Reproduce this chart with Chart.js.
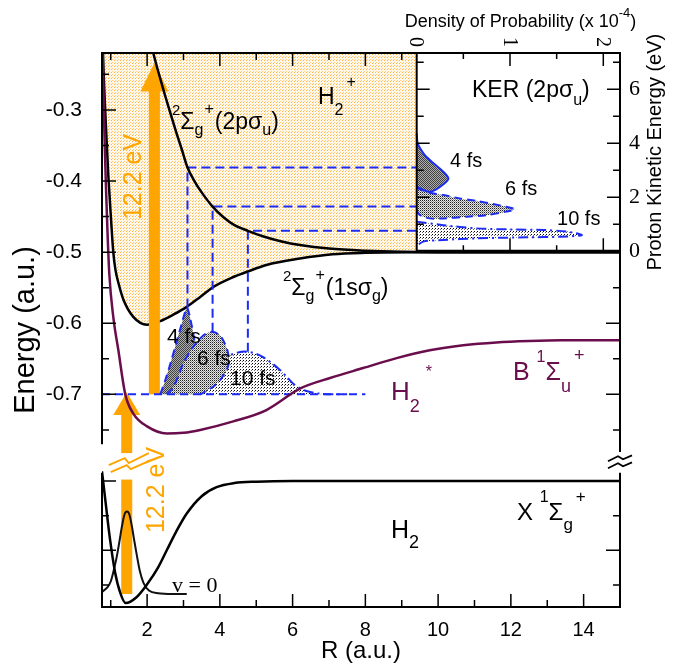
<!DOCTYPE html>
<html>
<head>
<meta charset="utf-8">
<script src="https://cdn.jsdelivr.net/npm/chart.js@4.4.0/dist/chart.umd.min.js"></script>
<style>
  html, body { margin: 0; padding: 0; background: #fff; }
  #wrap { width: 673px; height: 669px; }
</style>
</head>
<body>
<div id="wrap"><canvas id="pec"></canvas></div>
<script>
// tick labels
const rTicks = [2, 4, 6, 8, 10, 12, 14];
const eTopTicks = [-0.3, -0.4, -0.5, -0.6, -0.7];
const eBotTicks = [-1.0, -1.1];
const kerTicks = [0, 2, 4, 6];
const densTicks = [0, 1, 2];

// potential curves, [R (a.u.), E (a.u.)]
const ionU = [[2.10,-0.205],[2.17,-0.220],[2.30,-0.245],[2.45,-0.272],[2.60,-0.298],[2.81,-0.333],[2.95,-0.355],[3.11,-0.381],[3.30,-0.400],[3.50,-0.416],[3.80,-0.436],[4.10,-0.451],[4.40,-0.462],[4.77,-0.470],[5.20,-0.478],[5.70,-0.485],[6.20,-0.490],[7.00,-0.495],[8.00,-0.498],[9.00,-0.4995],[10.0,-0.500],[15.0,-0.500]];
const ionG = [[0.76,-0.170],[0.80,-0.241],[0.86,-0.314],[0.93,-0.389],[1.01,-0.455],[1.07,-0.500],[1.13,-0.525],[1.21,-0.543],[1.35,-0.567],[1.62,-0.591],[2.00,-0.602],[2.36,-0.597],[2.72,-0.588],[3.09,-0.577],[3.46,-0.563],[3.82,-0.549],[4.37,-0.535],[4.73,-0.528],[5.28,-0.518],[6.20,-0.509],[7.10,-0.503],[8.00,-0.501],[9.40,-0.5003],[15.0,-0.500]];
const stateB = [[0.765,-0.200],[0.80,-0.270],[0.83,-0.340],[0.87,-0.410],[0.91,-0.470],[0.96,-0.530],[1.07,-0.591],[1.21,-0.638],[1.40,-0.700],[1.62,-0.727],[2.00,-0.745],[2.54,-0.755],[3.00,-0.754],[3.46,-0.750],[4.37,-0.738],[5.28,-0.722],[6.20,-0.692],[7.03,-0.677],[7.94,-0.663],[8.86,-0.649],[9.77,-0.638],[10.69,-0.631],[11.60,-0.627],[12.50,-0.625],[13.40,-0.624],[15.0,-0.624]];
const stateX = [[0.76,-0.986],[0.87,-1.036],[0.98,-1.084],[1.12,-1.132],[1.26,-1.161],[1.41,-1.176],[1.70,-1.168],[2.00,-1.149],[2.30,-1.125],[2.54,-1.100],[2.80,-1.073],[3.09,-1.047],[3.50,-1.022],[3.91,-1.009],[4.40,-1.003],[5.00,-1.001],[6.00,-1.000],[15.0,-1.000]];
const psiV0 = [[0.76,-1.160],[0.90,-1.154],[1.00,-1.145],[1.10,-1.125],[1.17,-1.108],[1.24,-1.087],[1.31,-1.065],[1.38,-1.048],[1.445,-1.044],[1.51,-1.048],[1.58,-1.065],[1.65,-1.087],[1.72,-1.108],[1.80,-1.130],[1.90,-1.147],[2.05,-1.158],[2.30,-1.162],[2.70,-1.163],[3.09,-1.163]];

// wave packets on H2* (E = -0.7)
const excitE = -0.7;
const pack4 = [[2.36,-0.700],[2.50,-0.680],[2.65,-0.655],[2.80,-0.628],[2.95,-0.601],[3.05,-0.583],[3.10,-0.578],[3.18,-0.592],[3.30,-0.625],[3.33,-0.660],[3.25,-0.688],[3.10,-0.700]];
const pack6 = [[2.54,-0.700],[2.72,-0.690],[2.85,-0.675],[3.00,-0.656],[3.27,-0.633],[3.55,-0.617],[3.78,-0.612],[4.00,-0.617],[4.14,-0.629],[4.23,-0.643],[4.23,-0.660],[4.05,-0.677],[3.85,-0.688],[3.64,-0.695],[3.46,-0.700]];
const pack10 = [[2.60,-0.700],[3.00,-0.690],[3.50,-0.672],[3.90,-0.657],[4.28,-0.645],[4.50,-0.641],[4.74,-0.640],[5.00,-0.643],[5.20,-0.648],[5.45,-0.657],[5.66,-0.666],[5.85,-0.676],[6.02,-0.685],[6.30,-0.694],[6.75,-0.699],[7.50,-0.700]];
const dropR = [3.11, 3.80, 4.77];
const dropLow = [-0.578, -0.612, -0.640];
const dropHigh = [-0.381, -0.436, -0.470];
const insetR = 9.40;

// KER distributions, [density (1e-4), proton energy (eV)]
const ker4 = [[0,4.37],[0.01,4.00],[0.04,3.80],[0.09,3.55],[0.18,3.26],[0.285,2.95],[0.34,2.70],[0.30,2.52],[0.196,2.27],[0.125,2.21],[0.035,2.33],[0,2.40]];
const ker6 = [[0,2.35],[0.14,2.17],[0.285,2.09],[0.46,1.96],[0.64,1.87],[0.82,1.75],[0.96,1.65],[1.05,1.56],[0.96,1.47],[0.75,1.34],[0.535,1.28],[0.285,1.22],[0.14,1.22],[0.035,1.34],[0,1.50]];
const ker10 = [[0,1.10],[0.285,0.97],[0.64,0.85],[1.00,0.81],[1.36,0.79],[1.61,0.73],[1.77,0.60],[1.54,0.54],[1.18,0.52],[0.64,0.48],[0.285,0.42],[0.07,0.36],[0,0.20]];

const SANS = "'Liberation Sans', Arial, Helvetica, sans-serif";
const SERIF = "'Liberation Serif', 'Times New Roman', serif";
const BLUE = '#1d2cf5';
const PURPLE = '#6a0d4c';
const ORANGE = '#ffa500';

function pattern(size, bg, dots) {
  const c = document.createElement('canvas');
  c.width = c.height = size;
  const g = c.getContext('2d');
  g.fillStyle = bg;
  g.fillRect(0, 0, size, size);
  dots.forEach(([x, y, col]) => { g.fillStyle = col; g.fillRect(x, y, 1, 1); });
  return g.createPattern(c, 'repeat');
}
const orangeDots = pattern(3, '#fff8ea', [[0, 0, '#ffb53f'], [1, 2, '#ffcd7a']]);
const darkDots = pattern(2, '#b0b0b0', [[0, 0, '#404040'], [1, 1, '#404040']]);
const midDots = pattern(2, '#e6e6e6', [[0, 0, '#202020'], [1, 1, '#8c8c8c']]);
const lightDots = pattern(3, '#ffffff', [[0, 0, '#000000'], [2, 1, '#666666']]);

const xy = a => a.map(([x, y]) => ({ x, y }));
function line(data, xId, yId, opts) {
  return Object.assign({
    data: xy(data), xAxisID: xId, yAxisID: yId, showLine: true,
    pointRadius: 0, borderWidth: 2.5, borderColor: '#000', fill: false,
    cubicInterpolationMode: 'monotone'
  }, opts);
}
const blob = (data, xId, yId, bg, dash, order) => line(data, xId, yId, {
  fill: 'shape', backgroundColor: bg, borderColor: BLUE, borderWidth: 2,
  borderDash: dash, cubicInterpolationMode: 'default', tension: 0.3, order
});

const datasets = [
  line(ionG.filter(p => p[0] <= insetR), 'x', 'yTop', { borderWidth: 0, backgroundColor: orangeDots, fill: 'end', order: 20 }),
  line(ionG, 'x', 'yTop', { order: 19 }),
  blob(pack10, 'x', 'yTop', lightDots, [10, 4, 2, 4], 15),
  blob(pack4, 'x', 'yTop', darkDots, [8, 5], 14),
  blob(pack6, 'x', 'yTop', midDots, [8, 5], 13),
  line([[0.76, excitE], [8.0, excitE]], 'x', 'yTop', { borderColor: BLUE, borderWidth: 2, borderDash: [8, 5], order: 12 }),
  ...dropR.map((r, i) => line([[r, dropLow[i]], [r, dropHigh[i]], [insetR, dropHigh[i]]], 'x', 'yTop',
    { borderColor: BLUE, borderWidth: 2, borderDash: [9, 5], cubicInterpolationMode: 'default', tension: 0, order: 12 })),
  blob(ker10, 'x2', 'y2', lightDots, [10, 4, 2, 4], 11),
  blob(ker6, 'x2', 'y2', midDots, [8, 5], 10),
  blob(ker4, 'x2', 'y2', darkDots, [], 9),
  line(ionU, 'x', 'yTop', { order: 1 }),
  line(stateB, 'x', 'yTop', { borderColor: PURPLE, order: 1 }),
  line(stateX, 'x', 'yBot', { order: 1 }),
  line(psiV0, 'x', 'yBot', { borderWidth: 2, borderColor: '#111', order: 1 })
];
const ION_G_INDEX = 1;

function rich(ctx, x, y, parts, size, color, family) {
  ctx.save();
  ctx.fillStyle = color;
  ctx.textAlign = 'left';
  ctx.textBaseline = 'alphabetic';
  let cx = x;
  for (const [t, f = 1, dy = 0, dx = 0] of parts) {
    cx += dx;
    ctx.font = `${Math.round(size * f)}px ${family}`;
    ctx.fillText(t, cx, y + dy * size);
    cx += ctx.measureText(t).width;
  }
  ctx.restore();
}
function rotText(ctx, t, x, y, ang, font, color) {
  ctx.save();
  ctx.translate(x, y);
  ctx.rotate(ang);
  ctx.font = font;
  ctx.fillStyle = color;
  ctx.textAlign = 'center';
  ctx.textBaseline = 'middle';
  ctx.fillText(t, 0, 0);
  ctx.restore();
}

// text labels anchored in data coordinates
const labels = [
  { ax: 'x', ay: 'yTop', at: [6.698, -0.2917], size: 23, color: '#000', parts: [['H'], ['2', 0.7, 0.5], ['+', 0.7, -0.75, 3]] },
  { ax: 'x', ay: 'yTop', at: [2.684, -0.3269], size: 23, color: '#000', parts: [['2', 0.65, -0.62], ['Σ'], ['g', 0.7, 0.25], ['+', 0.7, -0.65, 1], ['(2pσ', 1, 0, 1], ['u', 0.7, 0.25], [')']] },
  { ax: 'x', ay: 'yTop', at: [5.736, -0.5603], size: 23, color: '#000', parts: [['2', 0.65, -0.62], ['Σ'], ['g', 0.7, 0.25], ['+', 0.7, -0.65, 1], ['(1sσ', 1, 0, 1], ['g', 0.7, 0.25], [')']] },
  { ax: 'x', ay: 'yTop', at: [2.547, -0.6278], size: 21, color: '#000', parts: [['4 fs']] },
  { ax: 'x', ay: 'yTop', at: [3.372, -0.6587], size: 21, color: '#000', parts: [['6 fs']] },
  { ax: 'x', ay: 'yTop', at: [4.279, -0.6868], size: 21, color: '#000', parts: [['10 fs']] },
  { ax: 'x', ay: 'yTop', at: [8.705, -0.7079], size: 26, color: PURPLE, parts: [['H'], ['2', 0.7, 0.46], ['*', 0.6, -0.9, 6]] },
  { ax: 'x', ay: 'yTop', at: [12.058, -0.6798], size: 25, color: PURPLE, parts: [['B '], ['1', 0.65, -0.72], ['Σ'], ['u', 0.7, 0.48], ['+', 0.7, -0.75, 3]] },
  { ax: 'x', ay: 'yBot', at: [12.168, -1.0563], size: 24, color: '#000', parts: [['X '], ['1', 0.65, -0.75], ['Σ'], ['g', 0.7, 0.4], ['+', 0.7, -0.75, 3]] },
  { ax: 'x', ay: 'yBot', at: [8.705, -1.0823], size: 25, color: '#000', parts: [['H'], ['2', 0.7, 0.4]] },
  { ax: 'x', ay: 'yBot', at: [2.684, -1.1602], size: 22, color: '#000', family: SERIF, parts: [['v = 0']] },
  { ax: 'x2', ay: 'y2', at: [0.593, 5.715], size: 23, color: '#000', parts: [['KER (2pσ'], ['u', 0.7, 0.35], [')']] },
  { ax: 'x2', ay: 'y2', at: [0.357, 3.122], size: 20, color: '#000', parts: [['4 fs']] },
  { ax: 'x2', ay: 'y2', at: [0.946, 2.085], size: 20, color: '#000', parts: [['6 fs']] },
  { ax: 'x2', ay: 'y2', at: [1.504, 0.975], size: 20, color: '#000', parts: [['10 fs']] }
];

function arrowUp(ctx, cx, yFrom, yHead, yTip, w, hw) {
  ctx.fillRect(cx - w / 2, yHead - 1, w, yFrom - yHead + 1);
  ctx.beginPath();
  ctx.moveTo(cx - hw / 2, yHead);
  ctx.lineTo(cx + hw / 2, yHead);
  ctx.lineTo(cx, yTip);
  ctx.closePath();
  ctx.fill();
}
function poly(ctx, pts) {
  ctx.moveTo(pts[0][0], pts[0][1]);
  pts.slice(1).forEach(p => ctx.lineTo(p[0], p[1]));
}

function drawArrows(chart) {
  const { ctx, scales: { x, yTop, yBot } } = chart;
  ctx.save();
  ctx.fillStyle = ORANGE;
  ctx.strokeStyle = ORANGE;
  arrowUp(ctx, x.getPixelForValue(2.2), yTop.getPixelForValue(-0.7),
    yTop.getPixelForValue(-0.274), yTop.getPixelForValue(-0.234), 11, 28);
  const lx = x.getPixelForValue(1.44);
  arrowUp(ctx, lx, yTop.getPixelForValue(-0.7826),
    yTop.getPixelForValue(-0.729), yTop.getPixelForValue(-0.697), 11, 27);
  const y0 = yBot.getPixelForValue(-0.998), y1 = yBot.getPixelForValue(-1.163);
  ctx.fillRect(lx - 5.5, y0, 11, y1 - y0);
  // break marks on the lower arrow
  const yb = yTop.getPixelForValue(-0.7826) + 9;
  ctx.lineWidth = 2;
  ctx.beginPath();
  poly(ctx, [[lx - 18, yb + 3], [lx - 2, yb - 4], [lx + 2, yb + 1], [lx + 22, yb - 9]]);
  poly(ctx, [[lx - 16, yb + 10], [lx, yb + 3], [lx + 4, yb + 7], [lx + 22, yb - 1]]);
  ctx.stroke();
  ctx.restore();
}

function drawFrame(chart) {
  const { ctx, chartArea: a, scales: s } = chart;
  const X = s.x, T = s.yTop, B = s.yBot, D = s.x2, K = s.y2;
  const xi = D.getPixelForValue(0), yi = K.getPixelForValue(0);
  const leftEnd = T.getPixelForValue(-0.77), rightEnd = T.getPixelForValue(-0.781);
  const lowStart = B.getPixelForValue(-0.988);
  ctx.save();
  ctx.strokeStyle = '#000';
  ctx.lineWidth = 2;
  ctx.beginPath();
  poly(ctx, [[a.left - 1, a.top], [a.right + 1, a.top]]);
  poly(ctx, [[a.left - 1, a.bottom], [a.right + 1, a.bottom]]);
  poly(ctx, [[a.left, a.top], [a.left, leftEnd]]);
  poly(ctx, [[a.left, lowStart], [a.left, a.bottom]]);
  poly(ctx, [[a.right, a.top], [a.right, rightEnd]]);
  poly(ctx, [[a.right, lowStart], [a.right, a.bottom]]);
  poly(ctx, [[xi, a.top], [xi, yi]]);
  ctx.stroke();
  ctx.lineWidth = 3;
  ctx.beginPath();
  poly(ctx, [[xi, yi], [a.right, yi]]);
  ctx.stroke();

  ctx.lineWidth = 1.5;
  ctx.beginPath();
  for (let r = 1; r <= 14; r++) {
    const px = X.getPixelForValue(r), len = r % 2 ? 7 : 13;
    poly(ctx, [[px, a.bottom], [px, a.bottom - len]]);
    if (px < xi - 3) poly(ctx, [[px, a.top], [px, a.top + len]]);
  }
  for (let k = 5; k <= 15; k++) {
    const py = T.getPixelForValue(-k * 0.05), len = k % 2 ? 7 : 14;
    poly(ctx, [[a.left, py], [a.left + len, py]]);
    if (py > yi + 3) poly(ctx, [[a.right, py], [a.right - len, py]]);
  }
  for (let k = 20; k <= 23; k++) {
    const py = B.getPixelForValue(-k * 0.05), len = k % 2 ? 7 : 14;
    poly(ctx, [[a.left, py], [a.left + len, py]]);
    poly(ctx, [[a.right, py], [a.right - len, py]]);
  }
  for (let e = 1; e <= 7; e++) {
    const py = K.getPixelForValue(e), len = e % 2 ? 7 : 13;
    poly(ctx, [[xi, py], [xi + len, py]]);
    poly(ctx, [[a.right, py], [a.right - len, py]]);
  }
  for (let d = 0.5; d <= 2; d += 0.5) {
    const px = D.getPixelForValue(d), len = d % 1 ? 6 : 13;
    poly(ctx, [[px, a.top], [px, a.top + len]]);
    poly(ctx, [[px, yi], [px, yi - len]]);
  }
  ctx.stroke();

  // axis break on the right edge
  const yb = (rightEnd + lowStart) / 2 - 3;
  ctx.lineWidth = 1.8;
  ctx.beginPath();
  poly(ctx, [[a.right - 12, yb + 2], [a.right - 2, yb - 3], [a.right + 3, yb], [a.right + 12, yb - 4]]);
  poly(ctx, [[a.right - 12, yb + 9], [a.right - 2, yb + 4], [a.right + 3, yb + 7], [a.right + 12, yb + 3]]);
  ctx.stroke();
  ctx.restore();

  // inset axes: tick labels and titles
  densTicks.forEach(v => rotText(ctx, String(v), D.getPixelForValue(v) - 1, a.top - 11, Math.PI / 2, `20px ${SERIF}`, '#000'));
  ctx.save();
  ctx.font = `22px ${SERIF}`;
  ctx.fillStyle = '#000';
  ctx.textAlign = 'left';
  ctx.textBaseline = 'middle';
  kerTicks.forEach(v => ctx.fillText(String(v), a.right + 9, K.getPixelForValue(v)));
  ctx.restore();
  rich(ctx, xi - 12, a.top - 26, [['Density of Probability (x 10'], ['-4', 0.7, -0.55], [')']], 18, '#000', SANS);
  rotText(ctx, 'Proton Kinetic Energy (eV)', a.right + 35, (a.top + yi) / 2, -Math.PI / 2, `20px ${SANS}`, '#000');
}

function drawTexts(chart) {
  const { ctx, scales: s } = chart;
  labels.forEach(l => {
    rich(ctx, s[l.ax].getPixelForValue(l.at[0]), s[l.ay].getPixelForValue(l.at[1]),
      l.parts, l.size, l.color, l.family || SANS);
  });
  const f = `25px ${SANS}`;
  rotText(ctx, '12.2 eV', s.x.getPixelForValue(1.64), s.yTop.getPixelForValue(-0.3944), -Math.PI / 2, f, ORANGE);
  rotText(ctx, '12.2 eV', s.x.getPixelForValue(2.272), s.yBot.getPixelForValue(-1.013), -Math.PI / 2, f, ORANGE);
}

const deco = {
  id: 'deco',
  afterDatasetDraw(chart, args) {
    if (args.index === ION_G_INDEX) drawArrows(chart);
  },
  afterDraw(chart) {
    drawFrame(chart);
    drawTexts(chart);
  }
};

const fixedTicks = list => scale => { scale.ticks = list.map(v => ({ value: v })); };
const noGrid = { display: false };

new Chart(document.getElementById('pec'), {
  type: 'scatter',
  data: { datasets },
  options: {
    responsive: true,
    maintainAspectRatio: false,
    animation: false,
    layout: { padding: { top: 53, right: 53 } },
    plugins: { legend: { display: false }, tooltip: { enabled: false } },
    scales: {
      x: {
        type: 'linear', position: 'bottom', min: 0.76, max: 15,
        grid: noGrid, border: { display: false },
        afterBuildTicks: fixedTicks(rTicks),
        afterFit: sc => { sc.height = 62; },
        ticks: { autoSkip: false, maxRotation: 0, padding: 3, color: '#000', font: { family: SANS, size: 20 } },
        title: { display: true, text: 'R (a.u.)', color: '#000', font: { family: SANS, size: 24 }, padding: { top: 0, bottom: 3 } }
      },
      yTop: {
        type: 'linear', position: 'left', weight: 1, min: -0.999, max: -0.22,
        grid: noGrid, border: { display: false },
        afterBuildTicks: fixedTicks(eTopTicks),
        afterFit: sc => { sc.width = 102; },
        ticks: { autoSkip: false, padding: 12, color: '#000', font: { family: SANS, size: 21 }, callback: v => v.toFixed(1) },
        title: { display: true, text: 'Energy (a.u.)', color: '#000', font: { family: SANS, size: 29 }, padding: { top: 9, bottom: 0 } }
      },
      yBot: {
        type: 'linear', position: 'left', weight: 0, min: -1.1818, max: -0.3826,
        grid: noGrid, border: { display: false },
        afterBuildTicks: fixedTicks(eBotTicks),
        afterFit: sc => { sc.width = 0; },
        ticks: { autoSkip: false, padding: 12, color: '#000', font: { family: SANS, size: 21 }, callback: v => v.toFixed(1) }
      },
      x2: { type: 'linear', position: 'top', display: false, min: -3.373, max: 2.179 },
      y2: { type: 'linear', position: 'right', display: false, min: -13.17, max: 7.344 }
    }
  },
  plugins: [deco]
});
</script>
</body>
</html>
